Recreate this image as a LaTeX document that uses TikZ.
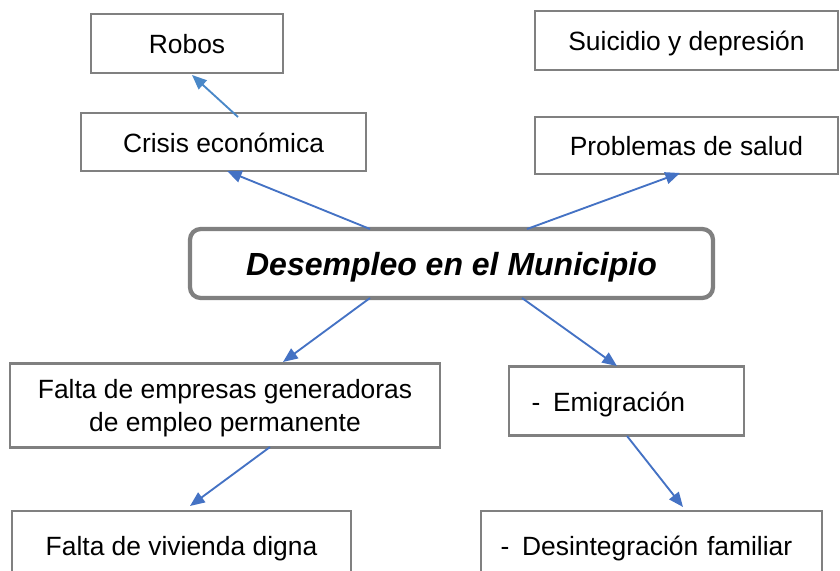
\documentclass[tikz,border=0pt]{standalone}
\usepackage{fontspec}
\setmainfont{Liberation Sans}
\usetikzlibrary{arrows.meta}
\definecolor{arrblue}{RGB}{68,114,196}
\definecolor{arrlight}{RGB}{74,136,200}
\definecolor{boxgray}{RGB}{128,128,128}
\begin{document}
\begin{tikzpicture}[x=0.75pt,y=-0.75pt,
  box/.style={draw=boxgray,line width=1.6pt,rectangle,inner sep=0pt,
    font=\fontsize{19.8}{24.5}\selectfont,align=center,text height=15.6pt,text depth=0pt},
  boxml/.style={draw=boxgray,line width=1.6pt,rectangle,inner sep=0pt,
    font=\fontsize{19.8}{24.5}\selectfont},
  mainbox/.style={draw=boxgray,line width=3.2pt,rounded corners=8pt,inner sep=0pt,
    font=\fontsize{24}{28}\selectfont\bfseries\itshape,text height=18.6pt,text depth=0pt},
  conn/.style={draw=arrblue,line width=1.4pt,-{Triangle[length=11pt,width=9pt]}},
  connl/.style={conn,draw=arrlight}]
\useasboundingbox (0,0) rectangle (840,571);
% boxes
\node[box,minimum width=144pt,minimum height=44.25pt] (robos) at (187,43.5) {Robos};
\node[box,minimum width=227.25pt,minimum height=44.25pt] (suic) at (686.5,40.5) {Suicidio y depresión};
\node[box,minimum width=213.75pt,minimum height=43.5pt] (crisis) at (223.5,142) {Crisis económica};
\node[box,minimum width=227.25pt,minimum height=42.75pt] (salud) at (686.5,145.5) {Problemas de salud};
\node[mainbox,minimum width=392.25pt,minimum height=51.75pt] (main) at (451.5,263.5) {Desempleo en el Municipio};
\node[boxml,minimum width=322.5pt,minimum height=63pt] (empresas) at (225,405.5) {\raisebox{-2pt}[\height][\depth]{\begin{tabular}{@{}c@{}}Falta de empresas generadoras\\de empleo permanente\end{tabular}}};
\node[box,minimum width=176.25pt,minimum height=51.75pt,text width=176.25pt,align=left] (emig) at (626.5,401) {\hspace*{17pt}-\hspace{9.5pt}Emigración};
\node[box,minimum width=254.25pt,minimum height=51.75pt] (vivienda) at (181.5,545.5) {Falta de vivienda digna};
\node[box,minimum width=255.75pt,minimum height=51.75pt,text width=255.75pt,align=left] (desint) at (651.5,545.5) {\hspace*{14.8pt}-\hspace{9.5pt}Desintegración familiar};
% connector end points
\coordinate (c1s) at (238,117); \coordinate (c1e) at (192,75);
\coordinate (c2s) at (370,229); \coordinate (c2e) at (227,171);
\coordinate (c3s) at (527,229); \coordinate (c3e) at (680,173);
\coordinate (c4s) at (370,298); \coordinate (c4e) at (283,362);
\coordinate (c5s) at (522,298); \coordinate (c5e) at (617,366);
\coordinate (c6s) at (270,447); \coordinate (c6e) at (190,506);
\coordinate (c7s) at (627,436); \coordinate (c7e) at (683,507);
\draw[connl] (c1s) -- (c1e);
\draw[conn] (c2s) -- (c2e);
\draw[conn] (c3s) -- (c3e);
\draw[conn] (c4s) -- (c4e);
\draw[conn] (c5s) -- (c5e);
\draw[conn] (c6s) -- (c6e);
\draw[conn] (c7s) -- (c7e);
\end{tikzpicture}
\end{document}
